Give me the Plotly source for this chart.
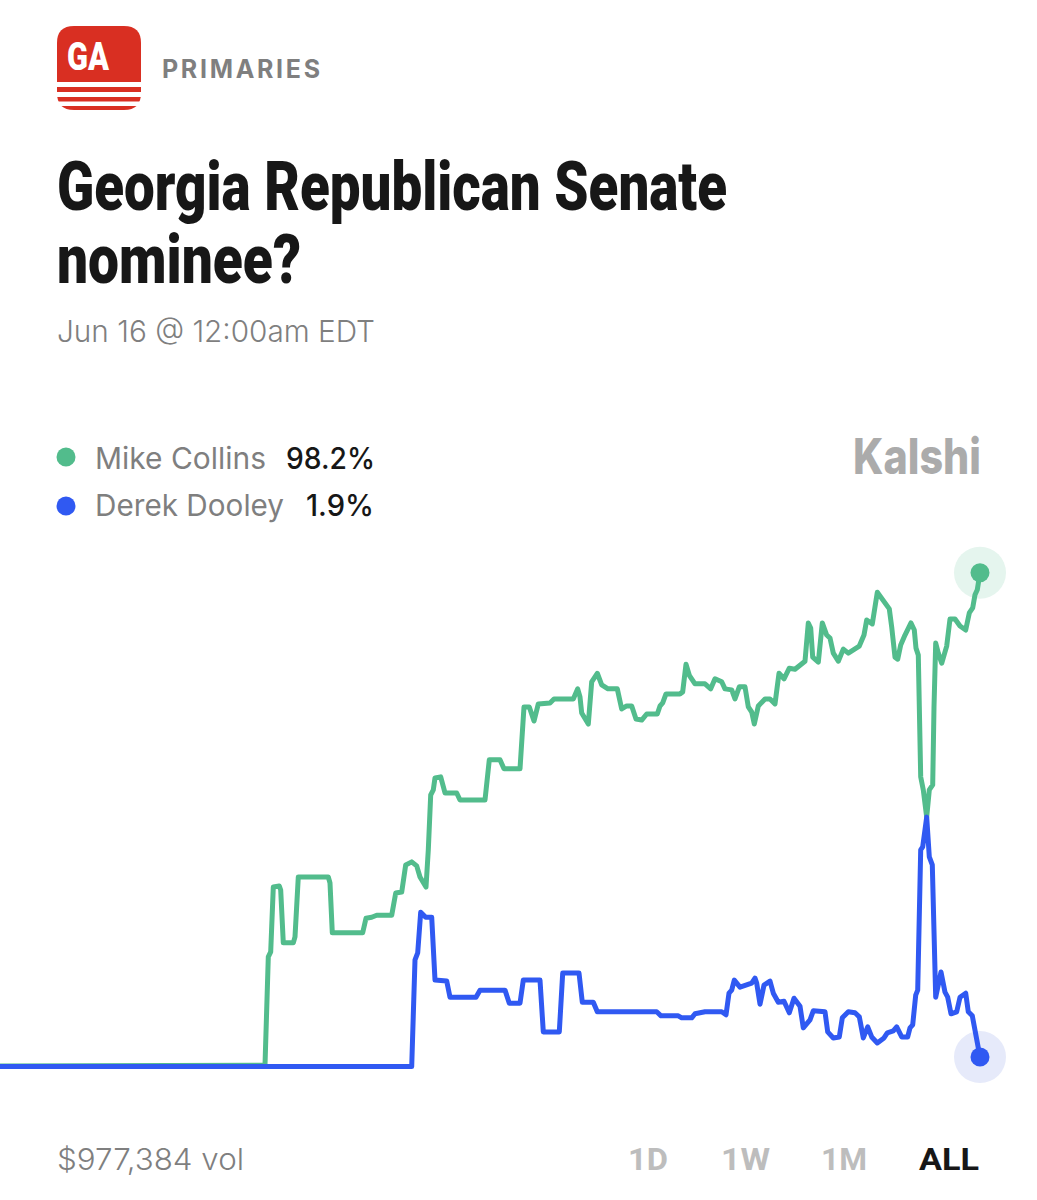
import json
import plotly.graph_objects as go

W, H = 1037, 1200

# Time index (arbitrary units along the window) and market odds in percent
collins_t = [0,264.5,265,268.3,270.7,273.3,279.3,280.7,283.3,293.3,295,298.3,328.3,330,332.3,362.7,366,371.7,376.7,391.7,395.7,401.7,405.7,411.7,416.7,420,426,428.3,430.7,433.3,435,440.7,445,456.7,460,485,487.3,489.3,500,504,520,524,529.3,534,538.3,550,554,573.3,577.7,580,581.7,588.3,591.7,597.3,601.7,608,617.3,621.7,626.7,631.7,636,641.7,646.7,657.3,660,662.7,666,680,682.7,686,689.3,695,705,710.7,715,721.7,725,731.7,735,739.3,745,748.3,751.7,754.3,758.3,765,770,775,779,784,789.3,795,805,808.3,810.7,812.7,818.3,822.3,826.7,830,833.3,838.3,843.3,848.3,859.3,864,866.7,872.3,877.3,885,889.3,891.7,895,897.7,900.7,905,911,914.3,916,918.3,920,920.7,923.3,926.7,929.3,932.7,934,935.7,938.3,941.7,946.7,950,955,960,965.7,969.3,972.7,975,977.3,980]
collins_pct = [0.1,0.1,0.3,21.8,22.8,35.7,35.9,35.1,24.6,24.6,25.8,37.7,37.7,36.5,26.6,26.6,29.5,29.7,30.1,30.1,34.5,34.7,40.1,40.7,39.9,37.7,35.7,43.1,54.0,55.0,57.4,57.6,54.4,54.4,53.0,53.0,56.4,61.0,61.0,59.2,59.2,71.5,71.5,68.7,72.1,72.3,73.1,73.1,75.1,73.5,70.3,68.1,76.5,78.2,75.9,75.1,75.1,71.1,71.7,71.7,69.1,68.9,70.1,70.1,71.7,72.3,74.1,74.1,74.5,80.0,77.8,76.1,76.1,75.1,77.1,76.5,75.1,74.9,73.1,75.5,75.5,71.5,70.5,68.1,71.7,73.1,73.1,72.1,78.2,77.1,79.2,79.0,80.6,88.2,87.2,81.4,80.4,88.2,85.8,85.2,82.2,80.6,83.0,82.2,83.6,85.8,88.8,88.0,94.3,92.2,91.0,87.4,81.4,81.0,83.8,85.8,88.2,86.8,83.2,81.8,59.6,57.6,55.0,49.6,55.0,56.0,71.5,84.2,82.2,80.2,83.6,89.0,89.0,87.6,86.8,90.2,91.2,93.8,94.8,98.2]

dooley_t = [0,411.7,415,417.7,420.7,425.7,431.7,435,446.7,450,476,480,505,509.3,520,523.3,540,543.3,559.3,562.7,579,582.3,593.3,597.3,656.7,661,678.3,681.7,691.7,695,705,721.7,726,729,731.7,734.3,740,751.7,755,756.7,760,764,770,773.3,778.3,784,789.3,794,800,803.3,810,813.3,825,827.7,833.3,839.3,842.3,848.3,855,859.3,863.3,867.7,871.7,877.3,884,887.3,893.3,896.7,901.7,907.7,910,912.7,915.7,917.7,920.7,922.7,926.7,929.3,932.3,935.7,941,945,947.7,951,956.7,960,965.7,968.3,972.3,975,976.7,980]
dooley_pct = [0,0,21.2,22.6,30.7,29.7,29.7,17.2,17.0,13.8,13.8,15.2,15.2,12.6,12.6,17.2,17.2,6.9,6.9,18.6,18.6,12.8,12.8,10.9,10.9,10.1,10.1,9.7,9.7,10.5,10.9,10.9,10.3,14.6,15.2,17.2,15.8,16.6,17.6,16.6,12.4,16.2,17.0,14.6,12.8,13.0,10.7,13.6,12.0,7.7,9.3,11.1,10.9,6.9,5.7,5.9,9.7,10.9,10.7,9.9,5.7,7.9,5.9,4.7,5.7,6.7,7.1,7.9,5.9,5.9,7.7,8.3,14.2,15.2,43.1,43.7,49.6,41.7,40.1,13.8,18.8,14.8,13.8,10.5,10.9,13.8,14.6,10.9,10.1,6.7,5.7,1.9]

names = ["Mike Collins", "Derek Dooley"]
latest = ["98.2%", "1.9%"]
ranges = ["1D", "1W", "1M", "ALL"]

GREEN, BLUE = "#52BC8C", "#3059F2"
HALO_G, HALO_B = "#E5F5EE", "#E6EAFA"
GREY, INK, RED = "#7F7F7F", "#171717", "#D92F22"
SANS, HEAVY = "Inter", "Roboto"

fits = {}


def px(x):
    return x / W


def py(y):
    return 1 - y / H


fig = go.Figure()
for t, v, c, halo, n in [(collins_t, collins_pct, GREEN, HALO_G, names[0]),
                         (dooley_t, dooley_pct, BLUE, HALO_B, names[1])]:
    fig.add_trace(go.Scatter(x=[t[-1]], y=[v[-1]], mode="markers", hoverinfo="skip",
                             marker=dict(size=52, color=halo), showlegend=False))
    fig.add_trace(go.Scatter(x=t, y=v, mode="lines", name=n, showlegend=False,
                             line=dict(color=c, width=5)))
    fig.add_trace(go.Scatter(x=[t[-1]], y=[v[-1]], mode="markers", hoverinfo="skip",
                             marker=dict(size=19, color=c), showlegend=False))


def label(x, y, text, size, color, width, font=SANS, weight=400, adjust="spacingAndGlyphs"):
    fig.add_annotation(xref="paper", yref="paper", x=px(x), y=py(y), text=text, align="left",
                       showarrow=False, xanchor="left", yanchor="middle", borderpad=0, borderwidth=0,
                       font=dict(family=font, size=size, color=color, weight=weight))
    fits[text] = [width, adjust]


def rect(x0, y0, x1, y1, color):
    fig.add_shape(type="rect", xref="paper", yref="paper", x0=px(x0), x1=px(x1), y0=py(y0), y1=py(y1),
                  fillcolor=color, line_width=0)


def dot(cx, cy, r, color):
    fig.add_shape(type="circle", xref="paper", yref="paper", x0=px(cx - r), x1=px(cx + r),
                  y0=py(cy - r), y1=py(cy + r), fillcolor=color, line_width=0)


# Logo
L, T, R, B, r = 57, 26, 141, 110, 17
logo = (f"M {px(L+r)} {py(T)} L {px(R-r)} {py(T)} Q {px(R)} {py(T)} {px(R)} {py(T+r)} "
        f"L {px(R)} {py(B-r)} Q {px(R)} {py(B)} {px(R-r)} {py(B)} L {px(L+r)} {py(B)} "
        f"Q {px(L)} {py(B)} {px(L)} {py(B-r)} L {px(L)} {py(T+r)} Q {px(L)} {py(T)} {px(L+r)} {py(T)} Z")
fig.add_shape(type="path", xref="paper", yref="paper", path=logo, fillcolor=RED, line_width=0)
rect(55, 82, 143, 87, "white")
rect(55, 92, 143, 97, "white")
rect(55, 101.5, 143, 106, "white")
label(67, 57, "GA", 38, "white", 42, HEAVY, 900)

label(162, 69, "PRIMARIES", 25, GREY, 158, SANS, 700, "spacing")
label(57, 187, "Georgia Republican Senate", 68, INK, 670, HEAVY, 900)
label(57, 260, "nominee?", 68, INK, 244, HEAVY, 900)
label(57, 331, "Jun 16 @ 12:00am EDT", 30, GREY, 318, SANS, 300)

dot(66, 457, 9.5, GREEN)
dot(66, 506, 9.5, BLUE)
label(95, 458, names[0], 30, GREY, 171)
label(286, 458, latest[0], 30, INK, 89, SANS, 500)
label(95, 505, names[1], 30, GREY, 189)
label(306, 505, latest[1], 30, INK, 68, SANS, 500)
label(853, 456, "Kalshi", 50, "#ABABAB", 128, SANS, 800)

label(57, 1159, "$977,384 vol", 30, GREY, 187, SANS, 300)
for text, x, w, c in zip(ranges, [628, 721, 821, 919], [40, 49, 46, 60], ["#BDBDBD", "#BDBDBD", "#BDBDBD", INK]):
    label(x, 1159, text, 32, c, w, HEAVY, 700)

fig.update_layout(width=W, height=H, margin=dict(l=0, r=0, t=0, b=0), showlegend=False,
                  paper_bgcolor="white", plot_bgcolor="white", hovermode=False,
                  xaxis=dict(visible=False, range=[0, W], fixedrange=True),
                  yaxis=dict(visible=False, range=[-26.52, 212.05], fixedrange=True))

post = """
document.body.style.margin='0';
var fits = %s;
document.querySelectorAll('.annotation-text').forEach(function(e){
  var f = fits[e.textContent];
  if(f){e.setAttribute('textLength', f[0]); e.setAttribute('lengthAdjust', f[1]);}
});
document.querySelectorAll('.js-line').forEach(function(e){
  e.style.strokeLinejoin='round'; e.style.strokeLinecap='round';
});
""" % json.dumps(fits)
fig.write_html("out.html", post_script=post, config={"displayModeBar": False})
